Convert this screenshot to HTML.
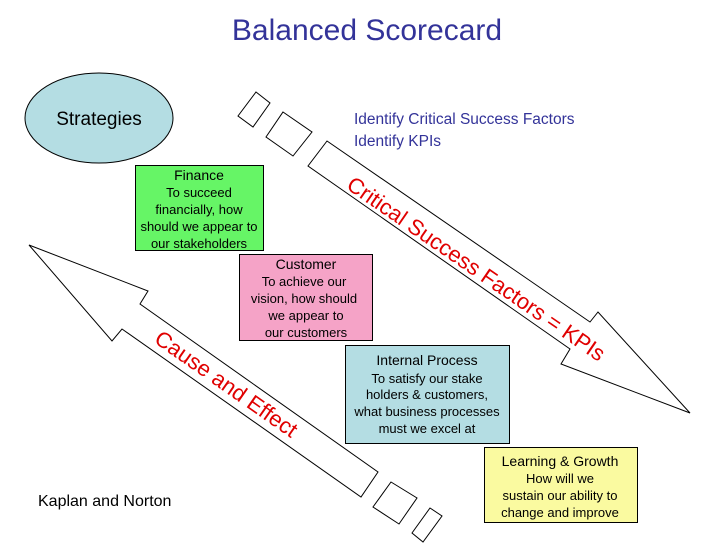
<!DOCTYPE html>
<html><head><meta charset="utf-8"><style>
body{margin:0;background:#fff}
svg{display:block;font-family:"Liberation Sans",Arial,sans-serif}
</style></head><body>
<svg width="728" height="546" viewBox="0 0 728 546" xmlns="http://www.w3.org/2000/svg">
<text x="367" y="40" font-size="30" fill="#333399" text-anchor="middle">Balanced Scorecard</text>
<ellipse cx="99" cy="118" rx="74" ry="45" fill="#b4dde3" stroke="#000" stroke-width="1"/>
<text x="99" y="125" font-size="19" text-anchor="middle">Strategies</text>
<text x="354" y="124" font-size="15.5" fill="#333399">Identify Critical Success Factors</text>
<text x="354" y="146" font-size="15.5" fill="#333399">Identify KPIs</text>
<g fill="#fff" stroke="#000" stroke-width="1">
<polygon points="256,92 270,103 253,127 238,116"/>
<polygon points="283,112 312,132 293,156 266,137"/>
<polygon points="327,141 590,322 598,312 690,413 561,364 570,349 308,166"/>
<polygon points="29,245 148,291 140,304 378,472 361,497 122,329 112,341"/>
<polygon points="391,482 417,498 399,524 373,507"/>
<polygon points="430,508 442,516 423,542 412,533"/>
</g>
<text transform="translate(472,275) rotate(34.5)" font-size="22" fill="#e00000" text-anchor="middle">Critical Success Factors = KPIs</text>
<text transform="translate(222,390) rotate(35)" font-size="22" fill="#e00000" text-anchor="middle">Cause and Effect</text>
<g stroke="#000" stroke-width="1">
<rect x="135.5" y="165.5" width="128" height="85" fill="#66f566"/>
<rect x="239.5" y="254.5" width="133" height="86" fill="#f5a3c7"/>
<rect x="345.5" y="345.5" width="164" height="98" fill="#b4dde3"/>
<rect x="484.5" y="447.5" width="153" height="75" fill="#fafaa0"/>
</g>
<g font-size="13" text-anchor="middle">
<text x="199" y="180" font-size="14">Finance</text>
<text x="199" y="197">To succeed</text>
<text x="199" y="214">financially, how</text>
<text x="199" y="231">should we appear to</text>
<text x="199" y="248">our stakeholders</text>
<text x="306" y="269" font-size="14">Customer</text>
<text x="304" y="286">To achieve our</text>
<text x="304" y="303">vision, how should</text>
<text x="306" y="320">we appear to</text>
<text x="306" y="337">our customers</text>
<text x="427" y="365" font-size="14">Internal Process</text>
<text x="427" y="383">To satisfy our stake</text>
<text x="427" y="399">holders &amp; customers,</text>
<text x="427" y="416">what business processes</text>
<text x="427" y="433">must we excel at</text>
<text x="560" y="466" font-size="14">Learning &amp; Growth</text>
<text x="560" y="483">How will we</text>
<text x="560" y="500">sustain our ability to</text>
<text x="560" y="517">change and improve</text>
</g>
<text x="38" y="506" font-size="16">Kaplan and Norton</text>
</svg>
</body></html>
